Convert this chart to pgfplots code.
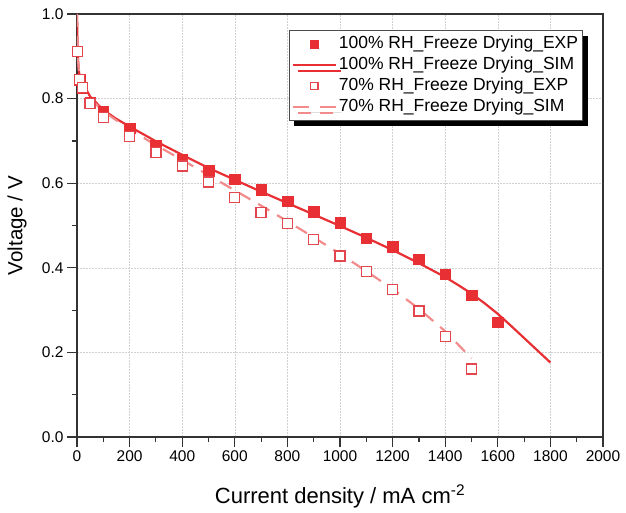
\documentclass[border=0pt]{standalone}
\usepackage{fontspec}
\setmainfont{Liberation Sans}
\usepackage{pgfplots}
\pgfplotsset{compat=1.18}
\usetikzlibrary{shadows}
\definecolor{cred}{RGB}{232,48,52}
\definecolor{cpink}{RGB}{242,140,140}
\definecolor{cored}{RGB}{228,70,78}
\pgfplotsset{
  legmark/.style={legend image code/.code={\draw[##1, mark size=#1] plot coordinates {(21pt,0pt)};}},
  legline/.style={legend image code/.code={\draw[##1] (0pt,0pt) -- (43pt,0pt);}},
  legdash/.style={legend image code/.code={\draw[##1, dash pattern=on 16pt off 11pt] (0pt,0pt) -- (43pt,0pt);}},
}
\begin{document}
\begin{tikzpicture}
\useasboundingbox (-77pt,-75pt) rectangle (549pt,437pt);
\begin{axis}[
  scale only axis, width=526pt, height=423pt,
  xmin=0, xmax=2000, ymin=0, ymax=1,
  xtick={0,200,...,2000}, ytick={0,0.2,...,1.0},
  minor x tick num=1, minor y tick num=1,
  yticklabel style={/pgf/number format/.cd, fixed, fixed zerofill, precision=1},
  /pgf/number format/assume math mode=true,
  tick label style={font=\fontsize{15.5}{17}\selectfont},
  xticklabel style={/pgf/number format/1000 sep={}},
  tick pos=left, tick align=outside,
  major tick length=10pt, minor tick length=5pt,
  every tick/.style={line width=1.2pt, black!80},
  axis line style={line width=1.5pt, black!80},
  grid=major,
  major grid style={black!18, line width=0.6pt, dash pattern=on 2pt off 1pt},
  xlabel={Current density / mA cm\textsuperscript{-2}},
  ylabel={Voltage / V},
  xlabel style={font=\fontsize{22}{24}\selectfont, at={(axis cs:1000,0)}, anchor=base, yshift=-66pt},
  ylabel style={font=\fontsize{20.5}{22}\selectfont, at={(axis cs:-228.1,0.5)}, anchor=center},
  legend cell align=left,
  legend style={at={(0.962,0.962)}, anchor=north east,
    font=\fontsize{17.5}{19}\selectfont,
    draw=black!70, line width=0.8pt, fill=white,
    inner xsep=3pt, inner ysep=3pt,
    nodes={text height=13.5pt, text depth=4.5pt, inner xsep=1.5pt, inner ysep=1.5pt},
    drop shadow={shadow xshift=5pt, shadow yshift=-6pt, fill=black, opacity=1}},
]
\addplot[only marks, mark=square*, mark size=5.3pt, color=cred, mark options={fill=cred}, legmark=4pt] coordinates {
(10,0.845)(20,0.826)(50,0.79)(100,0.769)(200,0.730)(300,0.689)(400,0.656)(500,0.630)(600,0.609)(700,0.585)(800,0.557)(900,0.533)(1000,0.507)(1100,0.470)(1200,0.450)(1300,0.420)(1400,0.385)(1500,0.335)(1600,0.271)
};
\addlegendentry{100\% RH\_Freeze Drying\_EXP}
\addplot[no marks, color=cred, line width=2.2pt, legline] coordinates {
(0,1.0)(2,0.93)(4,0.89)(8,0.86)(20,0.838)(50,0.805)(100,0.773)(150,0.752)(200,0.734)(300,0.699)(400,0.667)(500,0.636)(600,0.608)(700,0.580)(800,0.553)(900,0.526)(1000,0.499)(1100,0.471)(1200,0.442)(1300,0.411)(1400,0.378)(1450,0.359)(1500,0.339)(1550,0.316)(1600,0.291)(1650,0.263)(1700,0.234)(1750,0.205)(1800,0.176)
};
\addlegendentry{100\% RH\_Freeze Drying\_SIM}
\addplot[only marks, mark=square*, mark size=5pt, color=cored, mark options={fill=white, line width=1.3pt}, legmark=3.8pt] coordinates {
(2,0.912)(10,0.845)(20,0.826)(50,0.789)(100,0.756)(200,0.710)(300,0.672)(400,0.641)(500,0.603)(600,0.567)(700,0.531)(800,0.504)(900,0.467)(1000,0.428)(1100,0.392)(1200,0.348)(1300,0.298)(1400,0.237)(1500,0.161)
};
\addlegendentry{70\% RH\_Freeze Drying\_EXP}
\addplot[no marks, color=cpink, line width=2.2pt, dash pattern=on 13pt off 9pt, legdash] coordinates {
(0,1.0)(2,0.93)(4,0.89)(8,0.86)(20,0.832)(50,0.80)(100,0.77)(200,0.727)(300,0.690)(400,0.655)(500,0.619)(600,0.583)(700,0.547)(800,0.510)(900,0.472)(1000,0.433)(1100,0.392)(1200,0.350)(1300,0.303)(1400,0.250)(1500,0.186)
};
\addlegendentry{70\% RH\_Freeze Drying\_SIM}
\end{axis}
\end{tikzpicture}
\end{document}
